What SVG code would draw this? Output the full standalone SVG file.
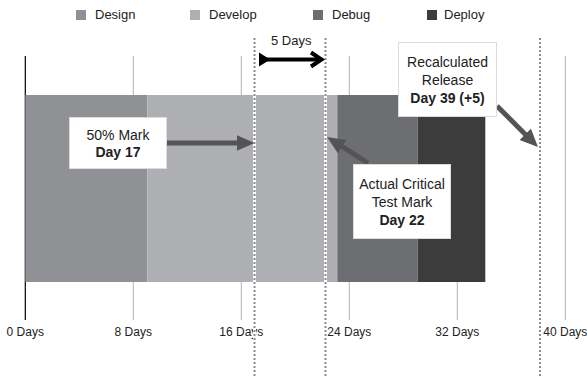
<svg xmlns="http://www.w3.org/2000/svg" width="587" height="377" viewBox="0 0 587 377">
  <style>
    text { font-family: "Liberation Sans", Arial, sans-serif; fill: #222; }
    .legend { font-size: 13px; }
    .axis { font-size: 12px; text-anchor: middle; }
    .note { font-size: 14px; text-anchor: middle; }
    .bold { font-weight: bold; }
    .tick { stroke: #b3b3b3; stroke-width: 1; }
    .box { fill: #fff; stroke: #dcdcdc; stroke-width: 1; }
    .guide-bg { stroke: #fff; stroke-width: 3; }
    .guide { stroke: #8c8c8c; stroke-width: 2; stroke-dasharray: 2 2; }
    .pointer { stroke: #545454; stroke-width: 5; fill: none; marker-end: url(#head); }
  </style>
  <defs>
    <marker id="head" markerUnits="userSpaceOnUse" markerWidth="19" markerHeight="17" refX="8" refY="8" orient="auto">
      <path d="M0,0 L18,8 L0,16 Z" fill="#545454"/>
    </marker>
  </defs>

  <rect width="587" height="377" fill="#fff"/>

  <!-- legend -->
  <g id="legend">
    <rect x="76" y="10" width="10" height="10" fill="#8f9195"/>
    <text class="legend" x="95" y="19">Design</text>
    <rect x="190" y="10" width="10" height="10" fill="#aeafb2"/>
    <text class="legend" x="209" y="19">Develop</text>
    <rect x="313" y="10" width="10" height="10" fill="#6d6e72"/>
    <text class="legend" x="332" y="19">Debug</text>
    <rect x="427" y="10" width="10" height="10" fill="#3c3c3c"/>
    <text class="legend" x="444" y="19">Deploy</text>
  </g>

  <!-- day grid: ticks above and below the bars -->
  <g id="grid">
    <line x1="25.3" y1="56" x2="25.3" y2="320" stroke="#000" stroke-width="1.2"/>
    <line class="tick" x1="133.3" y1="56" x2="133.3" y2="320"/>
    <line class="tick" x1="241.3" y1="56" x2="241.3" y2="320"/>
    <line class="tick" x1="349.3" y1="56" x2="349.3" y2="320"/>
    <line class="tick" x1="457.3" y1="56" x2="457.3" y2="320"/>
    <line class="tick" x1="565.3" y1="56" x2="565.3" y2="320"/>
    <text class="axis" x="25.3" y="336">0 Days</text>
    <text class="axis" x="133.3" y="336">8 Days</text>
    <text class="axis" x="241.3" y="336">16 Days</text>
    <text class="axis" x="349.3" y="336">24 Days</text>
    <text class="axis" x="457.3" y="336">32 Days</text>
    <text class="axis" x="565.3" y="336">40 Days</text>
  </g>

  <!-- phase bars -->
  <g id="phases">
    <rect id="design" x="25.3" y="95" width="122" height="187" fill="#8f9195"/>
    <rect id="develop" x="147.3" y="95" width="190" height="187" fill="#aeafb2"/>
    <rect id="debug" x="337.3" y="95" width="80.5" height="187" fill="#6d6e72"/>
    <rect id="deploy" x="417.8" y="95" width="67.5" height="187" fill="#3c3c3c"/>
  </g>

  <!-- dotted marker lines -->
  <g id="markers">
    <line class="guide-bg" x1="254.5" y1="38" x2="254.5" y2="377"/>
    <line class="guide" x1="254.5" y1="38" x2="254.5" y2="377"/>
    <line class="guide-bg" x1="325.5" y1="38" x2="325.5" y2="377"/>
    <line class="guide" x1="325.5" y1="38" x2="325.5" y2="377"/>
    <line class="guide-bg" x1="540" y1="38" x2="540" y2="377"/>
    <line class="guide" x1="540" y1="38" x2="540" y2="377"/>
  </g>

  <!-- slip span -->
  <g id="slip">
    <text class="legend" x="271" y="45">5 Days</text>
    <polygon points="259,52.5 259,66.5 267,61.5 267,57.5" fill="#000"/>
    <line x1="262" y1="59.5" x2="320" y2="59.5" stroke="#000" stroke-width="4"/>
    <polyline points="311,52.5 321.5,59.5 311,66.5" fill="none" stroke="#000" stroke-width="4" stroke-linejoin="miter"/>
  </g>

  <!-- connectors -->
  <g id="connectors">
    <line class="pointer" x1="167" y1="143" x2="244.5" y2="143"/>
    <line class="pointer" x1="368" y1="163" x2="335.5" y2="142.4"/>
    <line class="pointer" x1="497" y1="106" x2="530.9" y2="139.9"/>
  </g>

  <g id="mark-50">
    <rect class="box" x="69.5" y="117.5" width="97" height="51"/>
    <text class="note" x="118" y="140">50% Mark</text>
    <text class="note bold" x="118" y="157">Day 17</text>
  </g>

  <g id="mark-critical">
    <rect class="box" x="353.5" y="164.5" width="97" height="74"/>
    <text class="note" x="402" y="189">Actual Critical</text>
    <text class="note" x="402" y="207">Test Mark</text>
    <text class="note bold" x="402" y="225">Day 22</text>
  </g>

  <g id="mark-release">
    <rect class="box" x="398.5" y="42.5" width="98" height="74"/>
    <text class="note" x="447.5" y="67">Recalculated</text>
    <text class="note" x="447.5" y="85">Release</text>
    <text class="note bold" x="447.5" y="103">Day 39 (+5)</text>
  </g>
</svg>
